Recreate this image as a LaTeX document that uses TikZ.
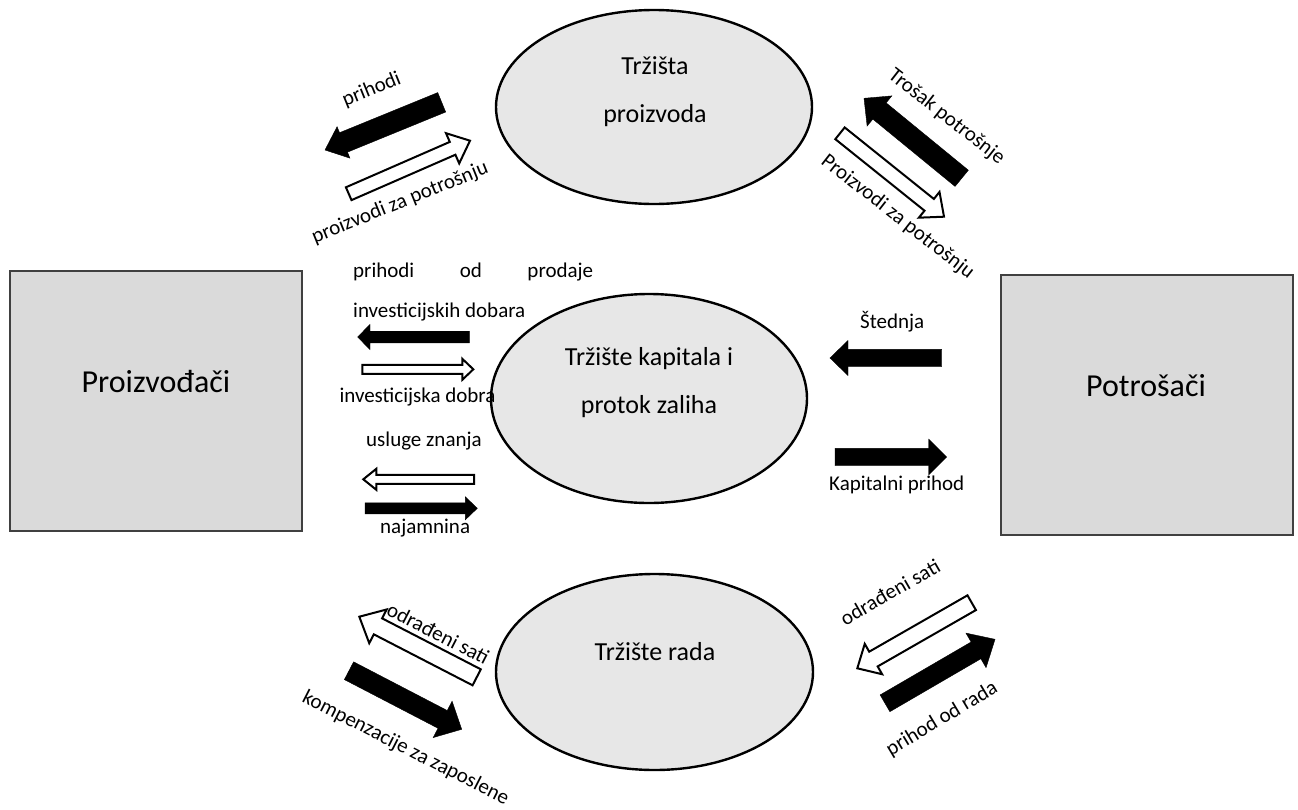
\documentclass[tikz,border=0pt]{standalone}
\usepackage{fontspec}
\setmainfont{Carlito}
\usetikzlibrary{shapes.geometric,calc}
\definecolor{boxfill}{HTML}{DADADA}
\definecolor{ellfill}{HTML}{E7E7E7}
\definecolor{boxline}{HTML}{404040}
% #1 style, #2 tail coordinate, #3 tip coordinate, #4 half shaft, #5 half head, #6 head length
\newcommand{\blockarr}[6]{%
  \coordinate (#3-h) at ($(#3)!#6!(#2)$);
  \draw[#1] ($(#2)!#4!90:(#3)$) -- ($(#3-h)!#4!90:(#3)$) -- ($(#3-h)!#5!90:(#3)$) -- (#3)
    -- ($(#3-h)!#5!-90:(#3)$) -- ($(#3-h)!#4!-90:(#3)$) -- ($(#2)!#4!-90:(#3)$) -- cycle;}
\tikzset{
  market/.style={ellipse, draw=black, line width=2.4pt, fill=ellfill, inner sep=0pt},
  agent/.style={rectangle, draw=boxline, line width=1.2pt, fill=boxfill, inner sep=0pt},
  blk/.style={fill=black, draw=black, line width=0.4pt, line join=miter},
  wht/.style={fill=white, draw=black, line width=2pt, line join=miter},
  lbl/.style={font=\fontsize{21}{25}\selectfont, inner sep=0pt},
  mtxt/.style={font=\fontsize{26}{31}\selectfont, inner sep=0pt, anchor=base},
  atxt/.style={font=\fontsize{32}{38}\selectfont, inner sep=0pt, anchor=base},
}
\begin{document}
\begin{tikzpicture}[x=1pt,y=-1pt]
\path[use as bounding box] (0,0) rectangle (1298,809);

% markets
\node[market, minimum width=316pt, minimum height=194pt] (pm) at (654,107) {};
\node[market, minimum width=316pt, minimum height=209pt] (cm) at (649,398.5) {};
\node[market, minimum width=317pt, minimum height=196pt] (lm) at (654.5,672) {};
\node[mtxt] (pm-t1) at (655,74) {Tržišta};
\node[mtxt] (pm-t2) at (655,122) {proizvoda};
\node[mtxt] (cm-t1) at (649,365) {Tržište kapitala i};
\node[mtxt] (cm-t2) at (649,413) {protok zaliha};
\node[mtxt] (lm-t) at (655,660.7) {Tržište rada};

% agents
\node[agent, minimum width=292pt, minimum height=260pt] (prod) at (156,401) {};
\node[agent, minimum width=292pt, minimum height=260pt] (cons) at (1147,405) {};
\node[atxt] (prod-t) at (156,392.7) {Proizvođači};
\node[atxt] (cons-t) at (1146,396) {Potrošači};

% arrow end points
\coordinate (a1t) at (441.7,102.3); \coordinate (a1h) at (325,150);
\coordinate (a2t) at (348.7,193.7); \coordinate (a2h) at (470,140.7);
\coordinate (a3t) at (961.7,178.3); \coordinate (a3h) at (864,98.3);
\coordinate (a4t) at (840,133.3);   \coordinate (a4h) at (944,216.7);
\coordinate (a5t) at (469.3,337);   \coordinate (a5h) at (357.7,337);
\coordinate (a6t) at (362.3,369.3); \coordinate (a6h) at (473.3,369.3);
\coordinate (a7t) at (474,479.3);   \coordinate (a7h) at (363.3,479.3);
\coordinate (a8t) at (365,508.3);   \coordinate (a8h) at (477.3,508.3);
\coordinate (a9t) at (941.7,358);   \coordinate (a9h) at (830,358);
\coordinate (a10t) at (835,457);    \coordinate (a10h) at (946.7,457);
\coordinate (a11t) at (476.7,677.3); \coordinate (a11h) at (359.3,616.7);
\coordinate (a12t) at (349,670.7);  \coordinate (a12h) at (461.7,729.3);
\coordinate (a13t) at (971.7,602.7); \coordinate (a13h) at (857.3,668.3);
\coordinate (a14t) at (885,703.3);  \coordinate (a14h) at (995,639.3);

\blockarr{blk}{a1t}{a1h}{10.5pt}{17pt}{20pt}
\blockarr{wht}{a2t}{a2h}{7pt}{16.5pt}{19pt}
\blockarr{blk}{a3t}{a3h}{10.5pt}{19.5pt}{20pt}
\blockarr{wht}{a4t}{a4h}{7.5pt}{16.5pt}{19pt}
\blockarr{blk}{a5t}{a5h}{5.8pt}{12.7pt}{12.3pt}
\blockarr{wht}{a6t}{a6h}{4.5pt}{10.5pt}{11pt}
\blockarr{wht}{a7t}{a7h}{4.5pt}{10.5pt}{13pt}
\blockarr{blk}{a8t}{a8h}{5.5pt}{11.5pt}{12pt}
\blockarr{blk}{a9t}{a9h}{8.7pt}{17.5pt}{18pt}
\blockarr{blk}{a10t}{a10h}{8.7pt}{17.8pt}{18pt}
\blockarr{wht}{a11t}{a11h}{9pt}{19pt}{21pt}
\blockarr{blk}{a12t}{a12h}{10pt}{20.5pt}{21.5pt}
\blockarr{wht}{a13t}{a13h}{8.5pt}{17.5pt}{18.6pt}
\blockarr{blk}{a14t}{a14h}{9.7pt}{20pt}{22pt}

% labels
\node[lbl, rotate=22] (l1) at (371.7,90) {prihodi};
\node[lbl, rotate=22] (l2) at (400,203) {proizvodi za potrošnju};
\node[lbl, rotate=-38] (l3) at (946.5,117) {Trošak potrošnje};
\node[lbl, rotate=-38] (l4) at (897.5,217) {Proizvodi za potrošnju};
\node[lbl, anchor=base west] (l5a) at (353,277.3) {\hbox to 240pt{prihodi\hfill od\hfill prodaje}};
\node[lbl, anchor=base west] (l5b) at (353,317.3) {investicijskih dobara};
\node[lbl, anchor=base west] (l6) at (339.3,402.7) {investicijska dobra};
\node[lbl, anchor=base west] (l7) at (366,446.7) {usluge znanja};
\node[lbl, anchor=base west] (l8) at (380,533) {najamnina};
\node[lbl, anchor=base west] (l9) at (860,328.3) {Štednja};
\node[lbl, anchor=base west] (l10) at (829,490) {Kapitalni prihod};
\node[lbl, rotate=-27.3] (l11) at (438.3,633.3) {odrađeni sati};
\node[lbl, rotate=-27] (l12) at (405.5,748.5) {kompenzacije za zaposlene};
\node[lbl, rotate=30] (l13) at (890,592) {odrađeni sati};
\node[lbl, rotate=31] (l14) at (942,719) {prihod od rada};
\end{tikzpicture}
\end{document}
